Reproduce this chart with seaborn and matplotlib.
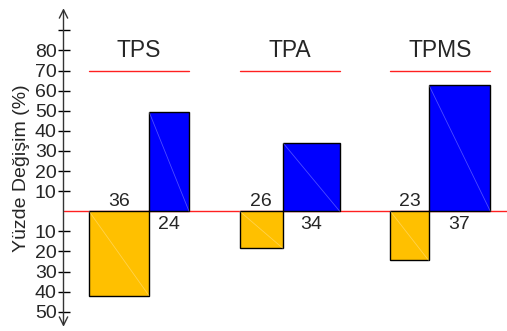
import pandas as pd
import seaborn as sns
import matplotlib.pyplot as plt

# Percentage change per group (negative = first component, positive = second)
groups = ["TPS", "TPA", "TPMS"]
orange_vals = [-42.0, -18.5, -24.5]
blue_vals = [49.5, 34.0, 63.0]
# Shares shown as labels; they also set the bar widths inside each group
orange_share = [36, 26, 23]
blue_share = [24, 34, 37]

yticks = [90, 80, 70, 60, 50, 40, 30, 20, 10, -10, -20, -30, -40, -50]
ytick_labels = ["", "80", "70", "60", "50", "40", "30", "20", "10",
                "10", "20", "30", "40", "50"]
title_line_level = 70

ORANGE = "#FFC000"
BLUE = "#0000FF"
RED = "#FF2020"

sns.set_style("white")
plt.rcParams["font.family"] = ["Liberation Sans", "DejaVu Sans"]

# layout (x in share units, y in percent)
X_MAX = 304.2
Y_MIN, Y_MAX = -59.6, 105.1
AXIS_X = 38.1
FIRST_GROUP = 53.4
GROUP_STEP = 90.4

rows = []
for i, g in enumerate(groups):
    start = FIRST_GROUP + i * GROUP_STEP
    o, b = orange_share[i], blue_share[i]
    rows.append(dict(group=g, series="a", value=orange_vals[i], share=o,
                     xc=start + o / 2))
    rows.append(dict(group=g, series="b", value=blue_vals[i], share=b,
                     xc=start + o + b / 2))
df = pd.DataFrame(rows)

fig = plt.figure(figsize=(5.07, 3.31), dpi=100)
ax = fig.add_axes([0, 0, 1, 1])

sns.barplot(data=df, x="xc", y="value", hue="series",
            palette={"a": ORANGE, "b": BLUE}, native_scale=True, dodge=False,
            legend=False, edgecolor="black", linewidth=1, saturation=1,
            errorbar=None, ax=ax, zorder=2)

# give every bar the width of its share
for p in ax.patches:
    c = p.get_x() + p.get_width() / 2
    row = df.iloc[(df["xc"] - c).abs().idxmin()]
    p.set_x(row.xc - row.share / 2)
    p.set_width(row.share)
    x0, x1 = p.get_x(), p.get_x() + p.get_width()
    y_top = max(p.get_y(), p.get_y() + p.get_height())
    y_bot = min(p.get_y(), p.get_y() + p.get_height())
    ax.plot([x0, x1], [y_top, y_bot], color="white", alpha=0.3, lw=0.6,
            zorder=3)

# value labels: first share above the zero line, second below it
for _, row in df.iterrows():
    if row.series == "a":
        ax.text(row.xc, 2.7, f"{row.share}", ha="center", va="baseline",
                fontsize=14)
    else:
        ax.text(row.xc, -2.4, f"{row.share}", ha="center", va="top",
                fontsize=14)

# group titles with red underline
for i, g in enumerate(groups):
    start = FIRST_GROUP + i * GROUP_STEP
    total = orange_share[i] + blue_share[i]
    ax.text(start + total / 2, 76.5, g, ha="center", va="baseline",
            fontsize=16.5)
    ax.plot([start, start + total], [title_line_level] * 2, color=RED, lw=1,
            zorder=1)

# zero line
ax.plot([AXIS_X, X_MAX], [0, 0], color=RED, lw=1, zorder=1)

# vertical axis with arrows at both ends
ax.annotate("", xy=(AXIS_X, 101), xytext=(AXIS_X, -57.5),
            arrowprops=dict(arrowstyle="<->,head_length=0.5,head_width=0.25",
                            lw=1, color="#333333", mutation_scale=12,
                            shrinkA=0, shrinkB=0), zorder=4)

for s in ax.spines.values():
    s.set_visible(False)
ax.spines["left"].set_position(("data", AXIS_X))
ax.set_yticks(yticks)
ax.set_yticklabels(ytick_labels)
ax.tick_params(axis="y", direction="inout", length=8, width=1,
               color="black", labelsize=14, pad=1, left=True)
ax.set_xticks([])
ax.set_xlabel("")
ax.set_ylabel("")
ax.set_xlim(0, X_MAX)
ax.set_ylim(Y_MIN, Y_MAX)

fig.text(22 / 507, 1 - 168 / 331, "Yüzde Değişim (%)", rotation=90,
         ha="center", va="center", fontsize=14)

fig.savefig("out.png", dpi=100)
